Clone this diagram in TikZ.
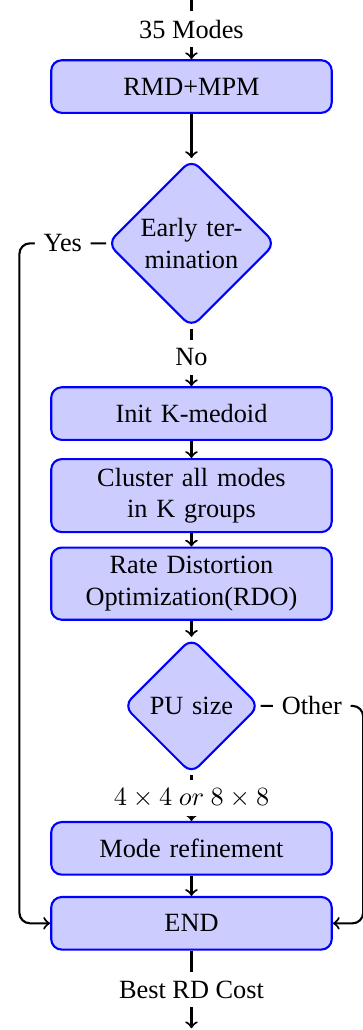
\documentclass[tikz,border=0pt]{standalone}
\usepackage[no-math]{fontspec}
\setmainfont{Liberation Serif}
\usetikzlibrary{shapes.geometric,positioning}

\begin{document}
\begin{tikzpicture}[
    block/.style={rectangle, draw=blue, thick, fill=blue!20, text width=10em,
      align=center, rounded corners, minimum height=2em},
    decision/.style={diamond, draw=blue, thick, fill=blue!20, text width=4.5em,
      align=center, inner sep=0pt, rounded corners},
    flow/.style={draw, thick, ->},
    lbl/.style={fill=white}]
  \useasboundingbox (-72.8pt,32.9pt) rectangle (65.2pt,-358.7pt);
  \node[block] (rmd_mpm) {RMD+MPM};
  \node[decision, below=16.8pt of rmd_mpm] (early_term) {Early termination};
  \node[block, below=21.9pt of early_term] (init_kmedoid) {Init K-medoid};
  \node[block, below=6.5pt of init_kmedoid] (cluster_modes) {Cluster all modes\\in K groups};
  \node[block, below=5.1pt of cluster_modes] (rdo) {Rate Distortion\\Optimization(RDO)};
  \node[decision, below=6.1pt of rdo] (pu_size) {PU size};
  \node[block, below=17.5pt of pu_size] (mode_refine) {Mode refinement};
  \node[block, below=7.7pt of mode_refine] (end_block) {END};
  % free ends and turning points
  \coordinate[above=22.8pt of rmd_mpm] (modes_in);
  \coordinate[below=29.5pt of end_block] (cost_out);
  \coordinate[left=33pt of early_term.west] (yes_turn);
  \coordinate[right=39pt of pu_size.east] (other_turn);

  \draw[flow] (modes_in) -- node[lbl] {35 Modes} (rmd_mpm);
  \draw[flow] (rmd_mpm) -- (early_term);
  \draw[flow] (early_term) -- node[lbl] {No} (init_kmedoid);
  \draw[flow] (init_kmedoid) -- (cluster_modes);
  \draw[flow] (cluster_modes) -- (rdo);
  \draw[flow] (rdo) -- (pu_size);
  \draw[flow] (pu_size) -- node[lbl] {$4\times4$ $or$ $8\times8$} (mode_refine);
  \draw[flow] (mode_refine) -- (end_block);
  \draw[flow] (end_block) -- node[lbl] {Best RD Cost} (cost_out);
  % side branches
  \draw[flow, rounded corners] (early_term.west) -- node[lbl] {Yes} (yes_turn) |- (end_block.west);
  \draw[flow, rounded corners] (pu_size.east) -- node[lbl] {Other} (other_turn) |- (end_block.east);
\end{tikzpicture}
\end{document}
